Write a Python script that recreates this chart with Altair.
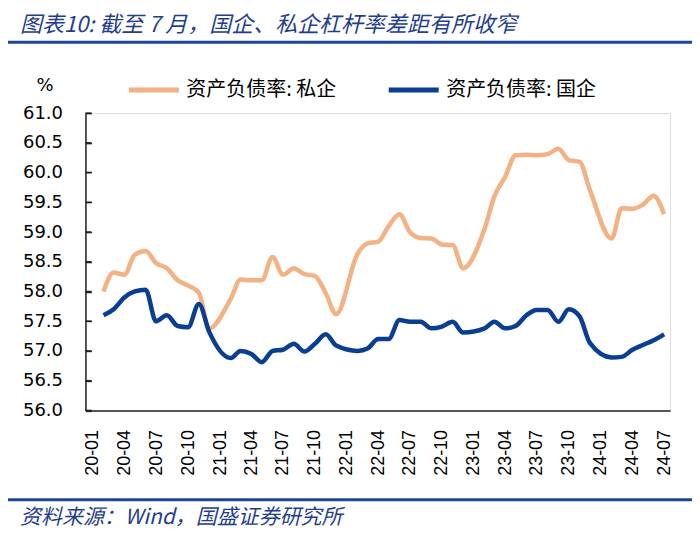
import altair as alt
import pandas as pd

# ---- data ----
months = (
    [f"2020-{m:02d}" for m in range(2, 13)]
    + [f"2021-{m:02d}" for m in range(2, 13)]
    + [f"2022-{m:02d}" for m in range(2, 13)]
    + [f"2023-{m:02d}" for m in range(2, 13)]
    + [f"2024-{m:02d}" for m in range(2, 8)]
)
private = [58.00, 58.32, 58.28, 58.62, 58.68, 58.48, 58.39, 58.19, 58.10, 57.98, 57.38,
           57.88, 58.20, 58.19, 58.19, 58.58, 58.28, 58.39, 58.29, 58.26, 57.97, 57.62,
           58.64, 58.81, 58.84, 59.10, 59.30, 59.00, 58.90, 58.89, 58.79, 58.78, 58.39,
           59.06, 59.60, 59.93, 60.29, 60.30, 60.29, 60.31, 60.40, 60.21, 60.18, 59.70,
           58.89, 59.40, 59.39, 59.46, 59.61, 59.30]
soe = [57.60, 57.70, 57.90, 58.00, 58.03, 57.50, 57.60, 57.42, 57.40, 57.79, 57.32,
       56.88, 57.00, 56.95, 56.81, 57.00, 57.02, 57.12, 56.99, 57.12, 57.28, 57.09,
       57.00, 57.04, 57.20, 57.20, 57.52, 57.49, 57.49, 57.38, 57.41, 57.49, 57.31,
       57.38, 57.49, 57.38, 57.42, 57.60, 57.69, 57.69, 57.49, 57.70, 57.58, 57.13,
       56.89, 56.90, 57.02, 57.10, 57.18, 57.28]
series_names = ["资产负债率: 私企", "资产负债率: 国企"]
series_colors = ["#F4B183", "#0A3E92"]
y_ticks = [56.0, 56.5, 57.0, 57.5, 58.0, 58.5, 59.0, 59.5, 60.0, 60.5, 61.0]
x_tick_months = [(2020 + (i * 3) // 12, (i * 3) % 12 + 1) for i in range(19)]

title_text = "图表10: 截至 7 月，国企、私企杠杆率差距有所收窄"
source_text = "资料来源：Wind，国盛证券研究所"
unit_text = "%"

rows = []
for d, v in zip(months, private):
    rows.append({"date": d + "-01", "value": v, "series": series_names[0]})
for d, v in zip(months, soe):
    rows.append({"date": d + "-01", "value": v, "series": series_names[1]})
df = pd.DataFrame(rows)

W, H = 585, 297.5
PL, PT = 77.5, 105  # plot origin in page = (85.5, 113)
TXT_BLUE = "#1F3E8F"

x_scale = alt.Scale(type="utc", domain=[alt.DateTime(year=2019, month=12, date=11, utc=True),
                                        alt.DateTime(year=2024, month=7, date=18, utc=True)])
y_scale = alt.Scale(domain=[56, 61], nice=False, zero=False)

y_axis = alt.Axis(values=y_ticks, format=".1f", ticks=False, tickSize=0, labelPadding=23,
                  labelOverlap=False, orient="left",
                  grid=False, title=None, domainColor="#222222", domainWidth=1.5,
                  labelFont="DejaVu Sans", labelFontSize=18, labelColor="black")

# second (label-less) left axis shifted inward so that its ticks point into the plot
y_tick_axis = alt.Axis(values=y_ticks, orient="left", offset=-6, ticks=True, tickSize=6,
                       tickWidth=1.5, tickColor="#222222", labels=False, domain=False,
                       grid=False, title=None)

lines = alt.Chart(df).mark_line(strokeWidth=4.5, interpolate="monotone").encode(
    x=alt.X("date:T", scale=x_scale,
            axis=alt.Axis(values=[alt.DateTime(year=y, month=m, date=1, utc=True) for y, m in x_tick_months],
                          format="%y-%m", labelAngle=270, labelAlign="right", labelBaseline="middle",
                          labelPadding=19, ticks=False, tickSize=0, grid=False, title=None,
                          labelOverlap=False,
                          domainColor="#222222", domainWidth=1.5,
                          labelFont="Liberation Sans", labelFontSize=18, labelColor="black")),
    y=alt.Y("value:Q", scale=y_scale, axis=y_axis),
    color=alt.Color("series:N",
                    scale=alt.Scale(domain=series_names, range=series_colors),
                    legend=alt.Legend(title=None, orient="none", legendX=41, legendY=-51,
                                      direction="horizontal", symbolType="stroke", symbolSize=2500,
                                      symbolStrokeWidth=5, labelFont="Noto Sans CJK SC",
                                      labelFontSize=20, labelColor="black", labelOffset=5,
                                      columnPadding=41, padding=0, labelLimit=400)),
    order=alt.Order("date:T"),
)

ticks_df = pd.DataFrame({"v": y_ticks})
inner_ticks = alt.Chart(ticks_df).mark_rule(color="#222222", strokeWidth=1.5).encode(
    y=alt.Y("v:Q", scale=y_scale, axis=y_tick_axis),
    x=alt.value(0), x2=alt.value(6),
)

def text_layer(txt, px, py, size, color, italic=False, font="Noto Sans CJK SC", align="left"):
    props = dict(align=align, baseline="middle", fontSize=size, color=color, font=font)
    if italic:
        props["fontStyle"] = "italic"
    return alt.Chart(pd.DataFrame({"t": [txt]})).mark_text(**props).encode(
        text="t:N", x=alt.value(px - 85.5), y=alt.value(py - 113))

title = text_layer(title_text, 20, 25, 22, TXT_BLUE, italic=True)
source = text_layer(source_text, 20, 518, 21, TXT_BLUE, italic=True)
unit = text_layer(unit_text, 45, 86, 18, "black", font="DejaVu Sans", align="center")

def hrule(py):
    return alt.Chart(pd.DataFrame({"k": [0]})).mark_rule(color="#1D4594", strokeWidth=3).encode(
        x=alt.value(-85.5), x2=alt.value(700 - 85.5), y=alt.value(py - 113))

chart = alt.layer(lines, inner_ticks, title, source, unit, hrule(42), hrule(500)).resolve_axis(
    y="independent"
).properties(
    width=W, height=H,
    padding={"left": PL, "top": PT, "right": 22, "bottom": 120},
    autosize=alt.AutoSizeParams(type="none"),
).configure_view(stroke=None).configure(background="white")

chart.save("out.html", embed_options={"renderer": "svg", "actions": False})
